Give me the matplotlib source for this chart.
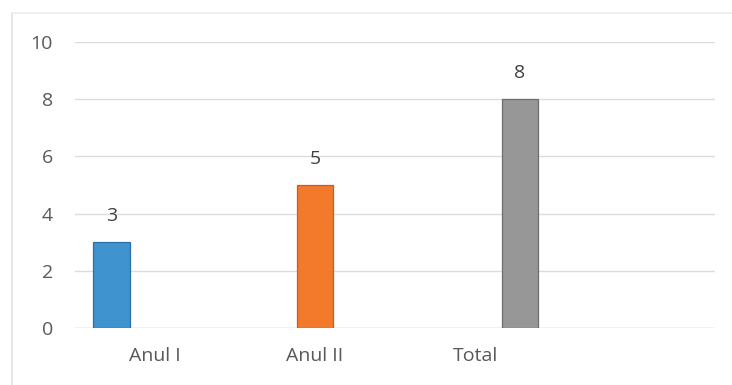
import matplotlib
matplotlib.use("Agg")
import matplotlib.pyplot as plt
import numpy as np

categories = ["Anul I", "Anul II", "Total", ""]
series_names = ["Anul I", "Anul II", "Total"]
series_values = [
    [3, 0, 0, 0],
    [0, 5, 0, 0],
    [0, 0, 8, 0],
]
colors = ["#3f93cf", "#f27a2a", "#979797"]
edge_colors = ["#2b71a8", "#c95e1a", "#6e6e6e"]
yticks = [0, 2, 4, 6, 8, 10]

plt.rcParams['font.family'] = ['Open Sans', 'DejaVu Sans']

fig = plt.figure(figsize=(7.32, 3.85), dpi=100)
fig.patch.set_facecolor("white")
ax = fig.add_axes([0.1025, 0.148, 0.8745, 0.743])

x = np.arange(len(categories))
offsets = [-0.272, 0.0, 0.28]
width = 0.23
for s, (vals, off) in enumerate(zip(series_values, offsets)):
    for xi, v in zip(x, vals):
        if v > 0:
            ax.bar(xi + off, v, width=width, color=colors[s],
                   edgecolor=edge_colors[s], linewidth=0.9, zorder=3)
            ax.annotate(str(v), (xi + off, v), xytext=(0, 19),
                        textcoords="offset points", ha="center", va="center",
                        fontsize=14, color="#404040")

ax.set_xlim(-0.5, 3.5)
ax.set_ylim(0, 10)
ax.set_yticks(yticks)
ax.set_yticklabels([str(t) for t in yticks], fontsize=14, color="#595959")
ax.set_xticks(x)
ax.set_xticklabels(categories, fontsize=14, color="#595959")
ax.tick_params(axis="y", length=0, pad=16)
ax.tick_params(axis="x", length=0, pad=14)
ax.grid(axis="y", color="#dcdcdc", linewidth=1.0, zorder=0)
for sp in ax.spines.values():
    sp.set_visible(False)
ax.axhline(0, color="#d0d0d0", linewidth=1.0, zorder=2)

# outer frame lines (left and top)
fig.add_artist(plt.Line2D([12/732, 12/732], [0, 1-13/385], color="#e2e2e2", lw=1.2, transform=fig.transFigure))
fig.add_artist(plt.Line2D([12/732, 1], [1-13/385, 1-13/385], color="#ececec", lw=1.2, transform=fig.transFigure))

fig.savefig("out.png", dpi=100)
